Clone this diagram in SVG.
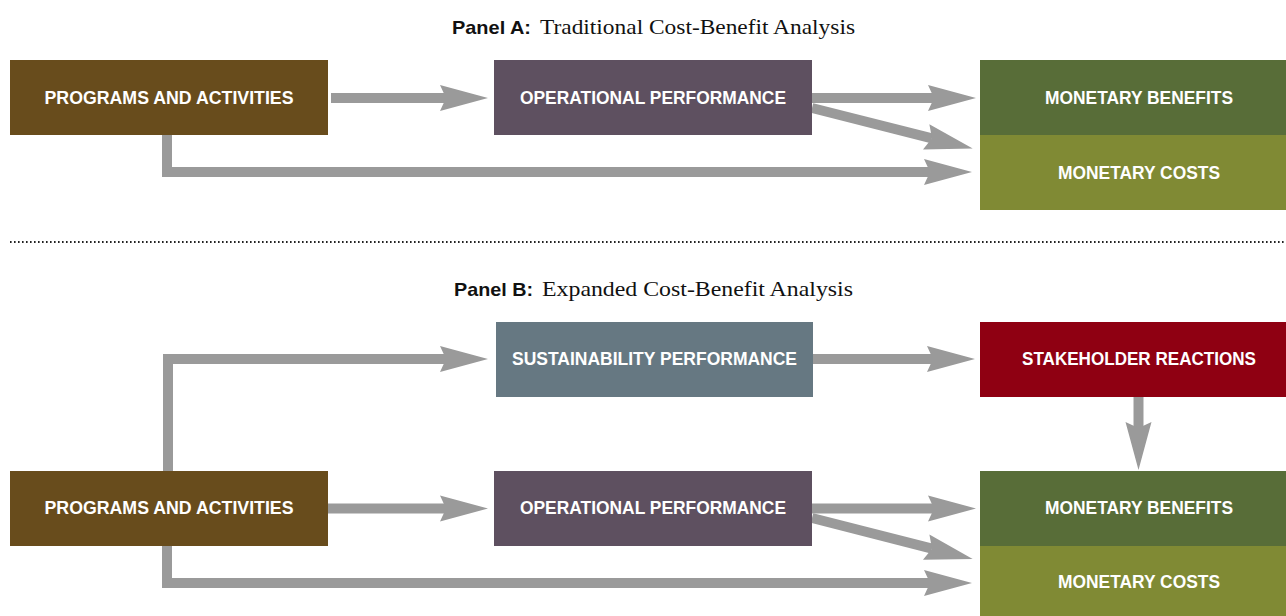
<svg xmlns="http://www.w3.org/2000/svg" width="1286" height="616" viewBox="0 0 1286 616">
  <style>
    .lbl { font-family: "Liberation Sans", Arial, sans-serif; font-weight: bold; font-size: 19px; fill: #ffffff; text-anchor: middle; }
    .ttl-b { font-family: "Liberation Sans", Arial, sans-serif; font-weight: bold; font-size: 19px; fill: #111111; }
    .ttl-s { font-family: "Liberation Serif", "Times New Roman", serif; font-size: 22px; fill: #111111; }
    .arrow { fill: none; stroke: #9a9a9a; stroke-width: 10; stroke-linejoin: miter; }
    .prog { fill: #684c1c; }
    .oper { fill: #5e5060; }
    .bene { fill: #586d38; }
    .cost { fill: #808a34; }
    .sust { fill: #667882; }
    .stak { fill: #8f0012; }
  </style>
  <defs>
    <!-- swept-back arrowhead; reference point sits at the notch so the shaft ends inside it -->
    <marker id="head" markerUnits="userSpaceOnUse" markerWidth="48" markerHeight="26" viewBox="0 0 48 26" refX="6" refY="13" orient="auto" overflow="visible">
      <polygon points="0,0 48,13 0,26 6,13" fill="#9a9a9a"/>
    </marker>
  </defs>

  <rect width="1286" height="616" fill="#ffffff"/>

  <!-- Panel A title -->
  <g id="title-a">
    <text class="ttl-b" x="452" y="34" textLength="79" lengthAdjust="spacingAndGlyphs">Panel A:</text>
    <text class="ttl-s" x="540" y="34" textLength="315" lengthAdjust="spacingAndGlyphs">Traditional Cost-Benefit Analysis</text>
  </g>

  <!-- Panel A connectors -->
  <g id="connectors-a">
    <path class="arrow" d="M331,98 H446" marker-end="url(#head)"/>
    <path class="arrow" d="M812,98 H934" marker-end="url(#head)"/>
    <path class="arrow" d="M812,108 L932,138.3" marker-end="url(#head)"/>
    <path class="arrow" d="M167,135 V172 H930" marker-end="url(#head)"/>
  </g>

  <!-- Panel A nodes -->
  <g id="a-programs">
    <rect class="prog" x="10" y="60" width="318" height="75"/>
    <text class="lbl" x="169" y="104" textLength="249" lengthAdjust="spacingAndGlyphs">PROGRAMS AND ACTIVITIES</text>
  </g>
  <g id="a-operational">
    <rect class="oper" x="494" y="60" width="318" height="75"/>
    <text class="lbl" x="653" y="104" textLength="266" lengthAdjust="spacingAndGlyphs">OPERATIONAL PERFORMANCE</text>
  </g>
  <g id="a-benefits">
    <rect class="bene" x="980" y="60" width="306" height="75"/>
    <text class="lbl" x="1139" y="104" textLength="188" lengthAdjust="spacingAndGlyphs">MONETARY BENEFITS</text>
  </g>
  <g id="a-costs">
    <rect class="cost" x="980" y="135" width="306" height="75"/>
    <text class="lbl" x="1139" y="179" textLength="162" lengthAdjust="spacingAndGlyphs">MONETARY COSTS</text>
  </g>

  <!-- divider between panels -->
  <line x1="10" y1="242" x2="1284" y2="242" stroke="#222222" stroke-width="2" stroke-dasharray="1.6 2.4"/>

  <!-- Panel B title -->
  <g id="title-b">
    <text class="ttl-b" x="454" y="296" textLength="79" lengthAdjust="spacingAndGlyphs">Panel B:</text>
    <text class="ttl-s" x="542" y="296" textLength="311" lengthAdjust="spacingAndGlyphs">Expanded Cost-Benefit Analysis</text>
  </g>

  <!-- Panel B connectors -->
  <g id="connectors-b">
    <path class="arrow" d="M168,471 V359 H446" marker-end="url(#head)"/>
    <path class="arrow" d="M813,359 H933" marker-end="url(#head)"/>
    <path class="arrow" d="M1138.5,397 V428" marker-end="url(#head)"/>
    <path class="arrow" d="M328,508.5 H446" marker-end="url(#head)"/>
    <path class="arrow" d="M812,508.5 H934" marker-end="url(#head)"/>
    <path class="arrow" d="M812,518 L932,548.7" marker-end="url(#head)"/>
    <path class="arrow" d="M167,546 V583 H930" marker-end="url(#head)"/>
  </g>

  <!-- Panel B nodes -->
  <g id="b-sustainability">
    <rect class="sust" x="496" y="322" width="317" height="75"/>
    <text class="lbl" x="654.5" y="365" textLength="285" lengthAdjust="spacingAndGlyphs">SUSTAINABILITY PERFORMANCE</text>
  </g>
  <g id="b-stakeholder">
    <rect class="stak" x="980" y="322" width="306" height="75"/>
    <text class="lbl" x="1139" y="365" textLength="234" lengthAdjust="spacingAndGlyphs">STAKEHOLDER REACTIONS</text>
  </g>
  <g id="b-programs">
    <rect class="prog" x="10" y="471" width="318" height="75"/>
    <text class="lbl" x="169" y="514" textLength="249" lengthAdjust="spacingAndGlyphs">PROGRAMS AND ACTIVITIES</text>
  </g>
  <g id="b-operational">
    <rect class="oper" x="494" y="471" width="318" height="75"/>
    <text class="lbl" x="653" y="514" textLength="266" lengthAdjust="spacingAndGlyphs">OPERATIONAL PERFORMANCE</text>
  </g>
  <g id="b-benefits">
    <rect class="bene" x="980" y="471" width="306" height="75"/>
    <text class="lbl" x="1139" y="514" textLength="188" lengthAdjust="spacingAndGlyphs">MONETARY BENEFITS</text>
  </g>
  <g id="b-costs">
    <rect class="cost" x="980" y="546" width="306" height="70"/>
    <text class="lbl" x="1139" y="588" textLength="162" lengthAdjust="spacingAndGlyphs">MONETARY COSTS</text>
  </g>
</svg>
